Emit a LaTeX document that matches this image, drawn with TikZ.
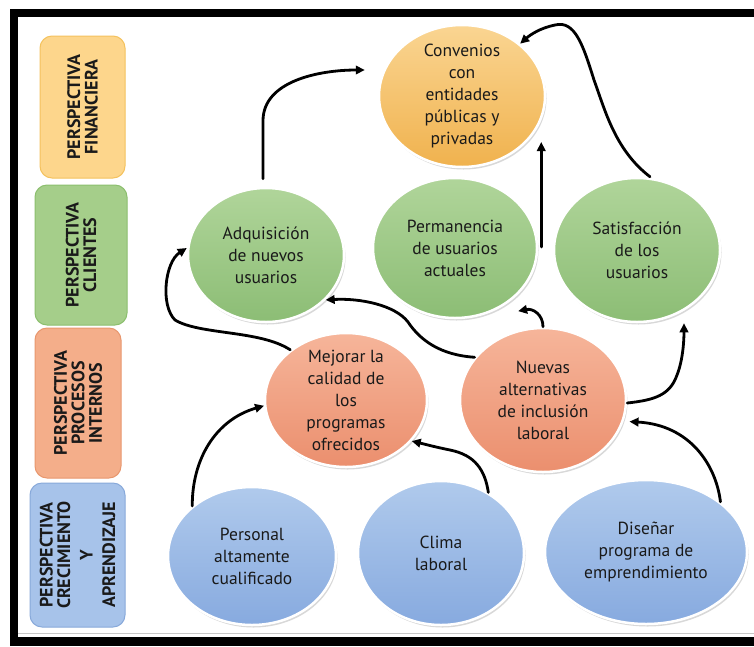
\documentclass[tikz,border=0pt]{standalone}
\usepackage{fontspec}
\setmainfont{PT Sans}
\usetikzlibrary{shapes.geometric,arrows.meta,shadows,calc}
\definecolor{finfill}{HTML}{FDD68C}
\definecolor{finline}{HTML}{F4C25E}
\definecolor{clifill}{HTML}{A5CE8A}
\definecolor{cliline}{HTML}{8CBF6E}
\definecolor{profill}{HTML}{F4AE8A}
\definecolor{proline}{HTML}{E8976E}
\definecolor{crefill}{HTML}{A7C3EA}
\definecolor{creline}{HTML}{88A9DA}
\definecolor{orgtop}{HTML}{FAD592}
\definecolor{orgbot}{HTML}{F0B24E}
\definecolor{grntop}{HTML}{B0D59A}
\definecolor{grnbot}{HTML}{8CBD75}
\definecolor{saltop}{HTML}{F6B59A}
\definecolor{salbot}{HTML}{EB8F6E}
\definecolor{blutop}{HTML}{B0CAEC}
\definecolor{blubot}{HTML}{87AADF}
\definecolor{txt}{HTML}{1A1A1A}
\begin{document}
\begin{tikzpicture}[x=1pt,y=-1pt,
  pbox/.style={rectangle, rounded corners=12pt, line width=1pt, rotate=90,
    align=center, text=txt, font=\bfseries\fontsize{18}{17.5}\selectfont, inner sep=0pt},
  bub/.style={ellipse, draw=white, line width=2.5pt, align=center, text=txt,
    font=\fontsize{17.5}{22}\selectfont, inner sep=-12pt,
    drop shadow={shadow xshift=1.5pt, shadow yshift=-2.5pt, opacity=0.3}},
  org/.style={bub, top color=orgtop, bottom color=orgbot},
  grn/.style={bub, top color=grntop, bottom color=grnbot},
  sal/.style={bub, top color=saltop, bottom color=salbot},
  blu/.style={bub, top color=blutop, bottom color=blubot},
  arr/.style={draw=black, line width=2.8pt, line cap=round,
    -{Triangle[length=9pt,width=8.5pt]}}
]
\useasboundingbox (0,0) rectangle (754,646);
% frame
\fill[black] (10,9) rectangle (754,646);
\fill[white] (18,17) rectangle (754,637);
\draw[black!22, line width=1.5pt] (18,633.5) -- (754,633.5);

% perspective boxes
\node[pbox, fill=finfill, draw=finline, minimum width=142pt, minimum height=85pt] (pfin) at (82.5,107) {PERSPECTIVA\\FINANCIERA};
\node[pbox, fill=clifill, draw=cliline, minimum width=140pt, minimum height=92pt] (pcli) at (81,255) {PERSPECTIVA\\CLIENTES};
\node[pbox, fill=profill, draw=proline, minimum width=150pt, minimum height=86pt] (ppro) at (78,403) {PERSPECTIVA\\PROCESOS\\INTERNOS};
\node[pbox, fill=crefill, draw=creline, minimum width=144pt, minimum height=95pt] (pcre) at (77.5,555) {PERSPECTIVA\\CRECIMIENTO\\[5pt]Y\\[5pt]APRENDIZAJE};

% bubbles
\node[org, minimum width=166pt, minimum height=142pt] (conv) at (462,96) {Convenios\\con\\entidades\\públicas y\\privadas};
\node[grn, minimum width=156pt, minimum height=134pt] (adq) at (266,255) {Adquisición\\de nuevos\\usuarios};
\node[grn, minimum width=164pt, minimum height=140pt] (perm) at (455,248) {Permanencia\\de usuarios\\actuales};
\node[grn, minimum width=166pt, minimum height=144pt] (sat) at (637,250) {Satisfacción\\de los\\usuarios};
\node[sal, minimum width=162pt, minimum height=134pt] (mej) at (346,400) {Mejorar la\\calidad de\\los\\programas\\ofrecidos};
\node[sal, minimum width=166pt, minimum height=144pt] (nue) at (543,400) {Nuevas\\alternativas\\de inclusión\\laboral};
\node[blu, minimum width=168pt, minimum height=138pt] (per) at (252,556) {Personal\\altamente\\cualificado};
\node[blu, minimum width=166pt, minimum height=144pt] (cli) at (441,553) {Clima\\laboral};
\node[blu, minimum width=202pt, minimum height=144pt] (dis) at (646,552) {Diseñar\\programa de\\emprendimiento};

% connectors
\draw[arr] ($(adq.north)+(-3,-8)$) -- ++(0,-58) .. controls +(0,-40) and +(-45,0) .. ($(conv.west)+(-13,-26)$);
\draw[arr] ($(perm.east)+(3,-1)$) -- ++(0,-105);
\draw[arr] ($(sat.north)+(13,0)$) .. controls (615,150) and (605,110) .. (594,80)
  .. controls (583,45) and (575,20) .. (555,25) .. controls (540,28) and (530,35) .. (conv.42);
\draw[arr] (mej.138) .. controls (260,330) and (200,335) .. (175,320)
  .. controls (160,305) and (165,262) .. ($(adq.west)+(0,-7)$);
\draw[arr] (nue.148) .. controls (440,355) and (420,340) .. (408,322)
  .. controls (395,305) and (360,298) .. (adq.-37);
\draw[arr] (nue.north) .. controls +(0,-12) and +(15,-3) .. ($(perm.-45)+(9,9)$);
\draw[arr] ($(nue.east)+(0,3)$) .. controls (655,400) and (670,395) .. (677,375)
  .. controls (683,360) and (684,340) .. ($(sat.south)+(47,0)$);
\draw[arr] (per.140) .. controls (192,460) and (215,420) .. (mej.184);
\draw[arr] (cli.52) .. controls (485,470) and (475,455) .. (450,450)
  .. controls (435,447) and (420,443) .. (mej.-32);
\draw[arr] (dis.34) .. controls (716,465) and (690,425) .. ($(nue.-15)+(6,0)$);
\end{tikzpicture}
\end{document}
